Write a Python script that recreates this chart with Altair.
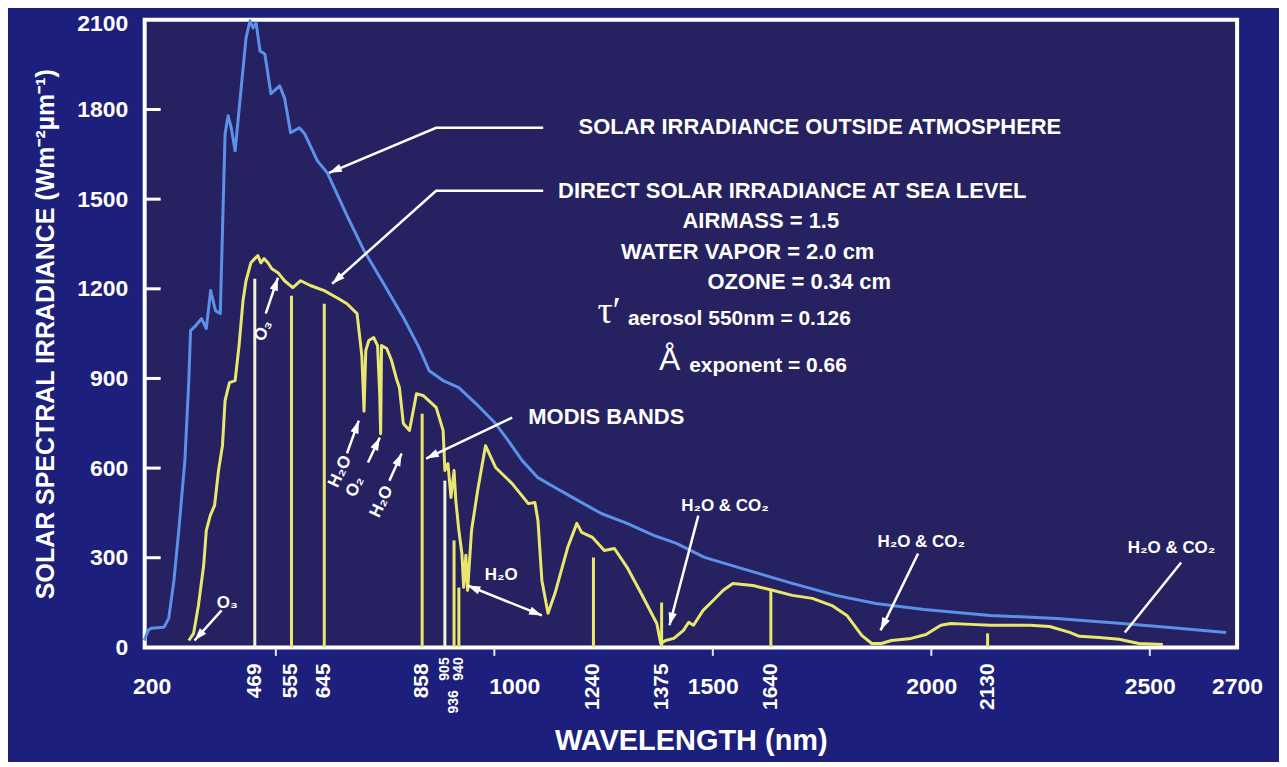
import math
import altair as alt
import pandas as pd

# ---------------- data ----------------
blue_nm = [199, 208, 215, 244, 255, 267, 278, 292, 301, 305, 317, 330, 341, 351, 362, 373, 384, 391, 398, 407,
           418, 432, 441, 448, 455, 464, 475, 489, 509, 520, 534, 554, 566, 595, 618, 663, 702, 747, 792, 828,
           851, 883, 919, 958, 1003, 1032, 1064, 1100, 1139, 1191, 1245, 1304, 1365, 1417, 1481, 1583, 1682,
           1782, 1873, 1984, 2135, 2287, 2437, 2539, 2675]
blue_w = [23, 57, 64, 67, 97, 224, 391, 625, 893, 1060, 1077, 1100, 1067, 1194, 1127, 1117, 1719, 1779, 1739, 1662,
          1829, 2040, 2097, 2073, 2090, 1996, 1986, 1853, 1879, 1839, 1722, 1739, 1719, 1629, 1588, 1445, 1328, 1217,
          1104, 1003, 926, 893, 869, 816, 749, 692, 625, 568, 535, 492, 448, 415, 375, 348, 301, 257, 214, 174, 147,
          127, 107, 97, 80, 67, 50]

yel_nm = [301, 312, 323, 335, 341, 350, 360, 369, 378, 384, 394, 407, 416, 425, 432, 437, 443, 452, 459, 466,
          473, 482, 491, 505, 520, 539, 557, 579, 611, 640, 663, 686, 697, 702, 706, 713, 724, 733, 738, 740,
          742, 754, 765, 776, 783, 792, 806, 822, 837, 867, 883, 887, 894, 901, 908, 912, 919, 926, 930, 935,
          939, 948, 962, 980, 1003, 1041, 1078, 1093, 1100, 1109, 1123, 1139, 1168, 1189, 1200, 1225, 1252, 1275,
          1304, 1336, 1372, 1381, 1392, 1411, 1433, 1445, 1456, 1478, 1501, 1524, 1546, 1592, 1637, 1682, 1728,
          1773, 1807, 1841, 1864, 1886, 1909, 1954, 1988, 2022, 2045, 2090, 2135, 2226, 2271, 2317, 2339, 2384,
          2430, 2475, 2530]
yel_w = [23, 47, 140, 274, 391, 441, 475, 592, 675, 826, 886, 893, 1010, 1160, 1227, 1254, 1287, 1301, 1311, 1287,
         1301, 1287, 1267, 1254, 1227, 1204, 1227, 1211, 1194, 1170, 1150, 1117, 976, 790, 993, 1027, 1037, 1010,
         843, 715, 1010, 1000, 960, 900, 869, 749, 726, 849, 843, 803, 726, 592, 615, 502, 592, 492, 391, 314, 201,
         308, 191, 391, 525, 675, 602, 548, 481, 485, 425, 224, 114, 181, 334, 415, 385, 368, 324, 331, 268, 181,
         80, 13, 23, 30, 57, 84, 74, 124, 157, 191, 214, 207, 191, 174, 164, 140, 107, 40, 13, 13, 23, 30, 43, 74,
         80, 77, 74, 74, 70, 50, 37, 33, 27, 13, 10]

band_label = ["469", "555", "645", "858", "905", "936", "940", "1240", "1375", "1640", "2130"]
band_nm = [452, 536, 611, 835, 887, 908, 919, 1227, 1383, 1633, 2129]   # where each line is drawn
band_top = [1234, 1177, 1150, 782, 558, 358, 200, 301, 150, 191, 47]
small_top_bands = ["905", "940"]
small_low_bands = ["936"]
pale_bands = ["469", "905"]

x_tick_values = [200, 500, 1000, 1500, 2000, 2500, 2700]
y_tick_values = [0, 300, 600, 900, 1200, 1500, 1800, 2100]
inner_y_ticks = [300, 600, 900, 1200, 1500, 1800]

arrow_paths = {
    "outside": [(1112, 1739), (867, 1739), (622, 1588)],
    "direct": [(1112, 1528), (867, 1528), (629, 1217)],
    "modis": [(1041, 769), (844, 632)],
    "o3_top": [(477, 1117), (505, 1237)],
    "o3_low": [(376, 124), (314, 23)],
    "h2o_a": [(663, 649), (690, 759)],
    "o2": [(711, 619), (738, 702)],
    "h2o_b": [(760, 558), (788, 649)],
    "h2o_c": [(939, 207), (1109, 107)],
    "co2_a": [(1467, 441), (1401, 74)],
    "co2_b": [(1970, 314), (1884, 57)],
    "co2_c": [(2572, 284), (2443, 50)],
}
arrow_heads = {
    "outside": "end", "direct": "end", "modis": "end", "o3_top": "end", "o3_low": "end",
    "h2o_a": "end", "o2": "end", "h2o_b": "end", "h2o_c": "both",
    "co2_a": "end", "co2_b": "end", "co2_c": "none",
}

big_left_txt = ["SOLAR IRRADIANCE OUTSIDE ATMOSPHERE", "DIRECT SOLAR IRRADIANCE AT SEA LEVEL", "MODIS BANDS"]
big_left_nm = [1193, 1146, 1078]
big_left_w = [1742, 1528, 772]

center_txt = ["AIRMASS = 1.5", "WATER VAPOR = 2.0 cm", "OZONE = 0.34 cm"]
center_nm = [1610, 1580, 1698]
center_w = [1428, 1324, 1224]

param_txt = ["aerosol 550nm = 0.126", "exponent = 0.66"]
param_nm = [1306, 1446]
param_w = [1100, 940]

tau_txt = ["τ′"]
tau_nm = [1236]
tau_w = [1122]

ring_txt = ["Å"]
ring_nm = [1377]
ring_w = [962]

gas_txt = ["H₂O & CO₂", "H₂O & CO₂", "H₂O & CO₂", "H₂O", "O₃"]
gas_nm = [1528, 1977, 2550, 1016, 389]
gas_w = [472, 354, 334, 241, 150]

tilt_txt = ["O₃", "H₂O", "O₂", "H₂O"]
tilt_nm = [471, 647, 681, 742]
tilt_w = [1060, 589, 538, 488]

# ---------------- styling ----------------
W, H = 1095, 629
FONT = "Liberation Sans"
BLUE = "#5b91e8"
YELLOW = "#e9e76e"
PALE = "#f3f3d6"
WHITE = "#ffffff"

XS = alt.Scale(domain=[200, 2700], nice=False, zero=False)
YS = alt.Scale(domain=[0, 2100], nice=False, zero=True)

XAX = alt.Axis(
    values=x_tick_values, format="d",
    labelExpr="datum.value == 500 ? '' : datum.label",
    labelFlush=False, labelFont=FONT, labelFontSize=23, labelFontWeight="bold", labelColor=WHITE,
    labelPadding=20,
    labelOffset={"condition": [{"test": "datum.value == 1000", "value": 20},
                               {"test": "datum.value == 200", "value": 7}], "value": 0},
    domain=False, ticks=True, tickSize=8, tickWidth=2, tickColor="#dfe6ff",
    tickOpacity={"condition": {"test": "datum.value == 200 || datum.value == 2700", "value": 0}, "value": 1},
    grid=False,
    title="WAVELENGTH (nm)", titleFont=FONT, titleFontSize=29, titleFontWeight="bold", titleColor=WHITE,
    titlePadding=28,
)
YAX = alt.Axis(
    values=y_tick_values, format="d",
    labelFont=FONT, labelFontSize=23, labelFontWeight="bold", labelColor=WHITE, labelPadding=17,
    labelOffset={"condition": {"test": "datum.value == 2100", "value": 4}, "value": 0},
    domain=False, ticks=False, grid=False,
    title="SOLAR SPECTRAL IRRADIANCE (Wm⁻²µm⁻¹)", titleFont=FONT, titleFontSize=25,
    titleFontWeight="bold", titleColor=WHITE, titlePadding=18,
)


def X():
    return alt.X("nm:Q", scale=XS, axis=XAX)


def Y():
    return alt.Y("w:Q", scale=YS, axis=YAX)


blue_df = pd.DataFrame({"nm": blue_nm, "w": blue_w})
yel_df = pd.DataFrame({"nm": yel_nm, "w": yel_w})
band_df = pd.DataFrame({"nm": band_nm, "w": band_top, "lab": band_label})

rows = []
for aid, pts in arrow_paths.items():
    for i, (n, v) in enumerate(pts):
        rows.append({"aid": aid, "seq": i, "nm": n, "w": v})
arrow_df = pd.DataFrame(rows)

PX_NM = W / 2500.0
PX_W = H / 2100.0


def head(p_from, p_to):
    dx = (p_to[0] - p_from[0]) * PX_NM
    dy = -(p_to[1] - p_from[1]) * PX_W
    ang = math.degrees(math.atan2(dx, -dy)) % 360
    return {"nm": p_to[0], "w": p_to[1], "ang": ang}


heads = []
for aid, pts in arrow_paths.items():
    mode = arrow_heads[aid]
    if mode in ("end", "both"):
        heads.append(head(pts[-2], pts[-1]))
    if mode == "both":
        heads.append(head(pts[1], pts[0]))
head_df = pd.DataFrame(heads)

# ---------------- layers ----------------
ytick_layer = alt.Chart(pd.DataFrame({"w": inner_y_ticks})).mark_rule(
    color=WHITE, strokeWidth=3).encode(y=Y(), x=alt.value(0), x2=alt.value(16))

blue_layer = alt.Chart(blue_df).mark_line(color=BLUE, strokeWidth=3, strokeJoin="round").encode(
    x=X(), y=Y(), order="nm:Q")

band_layer = alt.Chart(band_df).mark_rule(strokeWidth=3).encode(
    x=X(), y=Y(), y2=alt.datum(0),
    color=alt.condition(alt.FieldOneOfPredicate(field="lab", oneOf=pale_bands), alt.value(PALE), alt.value(YELLOW)))

yel_layer = alt.Chart(yel_df).mark_line(color=YELLOW, strokeWidth=3, strokeJoin="round").encode(
    x=X(), y=Y(), order="nm:Q")

arrow_layer = alt.Chart(arrow_df).mark_line(color=WHITE, strokeWidth=2.5).encode(
    x=X(), y=Y(), detail="aid:N", order="seq:Q")

head_layer = alt.Chart(head_df).mark_point(
    shape="M0,0L0.33,1L-0.33,1Z", filled=True, color=WHITE, opacity=1, size=650).encode(
    x=X(), y=Y(), angle=alt.Angle("ang:Q", scale=None))

big_band = band_df[~band_df["lab"].isin(small_top_bands + small_low_bands)]
band_text_big = alt.Chart(big_band).mark_text(
    angle=270, align="right", baseline="middle", font=FONT, fontSize=21, fontWeight="bold", color=WHITE).encode(
    x=X(), y=alt.value(H + 16), text="lab:N")
band_text_small_a = alt.Chart(band_df[band_df["lab"].isin(small_top_bands)]).mark_text(
    angle=270, align="right", baseline="middle", font=FONT, fontSize=14, fontWeight="bold", color=WHITE).encode(
    x=X(), y=alt.value(H + 10), text="lab:N")
band_text_small_b = alt.Chart(band_df[band_df["lab"].isin(small_low_bands)]).mark_text(
    angle=270, align="right", baseline="middle", font=FONT, fontSize=14, fontWeight="bold", color=WHITE).encode(
    x=X(), y=alt.value(H + 43), text="lab:N")

big_left = alt.Chart(pd.DataFrame({"nm": big_left_nm, "w": big_left_w, "t": big_left_txt})).mark_text(
    align="left", baseline="middle", font=FONT, fontSize=22, fontWeight="bold", color=WHITE).encode(
    x=X(), y=Y(), text="t:N")
center_lab = alt.Chart(pd.DataFrame({"nm": center_nm, "w": center_w, "t": center_txt})).mark_text(
    align="center", baseline="middle", font=FONT, fontSize=22, fontWeight="bold", color=WHITE).encode(
    x=X(), y=Y(), text="t:N")
param_lab = alt.Chart(pd.DataFrame({"nm": param_nm, "w": param_w, "t": param_txt})).mark_text(
    align="left", baseline="middle", font=FONT, fontSize=21, fontWeight="bold", color=WHITE).encode(
    x=X(), y=Y(), text="t:N")
tau_lab = alt.Chart(pd.DataFrame({"nm": tau_nm, "w": tau_w, "t": tau_txt})).mark_text(
    align="left", baseline="middle", font="Liberation Serif", fontSize=38, color=WHITE).encode(
    x=X(), y=Y(), text="t:N")
ring_lab = alt.Chart(pd.DataFrame({"nm": ring_nm, "w": ring_w, "t": ring_txt})).mark_text(
    align="left", baseline="middle", font=FONT, fontSize=32, color=WHITE).encode(
    x=X(), y=Y(), text="t:N")
gas_lab = alt.Chart(pd.DataFrame({"nm": gas_nm, "w": gas_w, "t": gas_txt})).mark_text(
    align="center", baseline="middle", font=FONT, fontSize=17, fontWeight="bold", color=WHITE).encode(
    x=X(), y=Y(), text="t:N")
tilt_lab = alt.Chart(pd.DataFrame({"nm": tilt_nm, "w": tilt_w, "t": tilt_txt})).mark_text(
    angle=295, align="center", baseline="middle", font=FONT, fontSize=17, fontWeight="bold", color=WHITE).encode(
    x=X(), y=Y(), text="t:N")

chart = alt.layer(
    blue_layer, band_layer, yel_layer, ytick_layer, arrow_layer, head_layer,
    band_text_big, band_text_small_a, band_text_small_b,
    big_left, center_lab, param_lab, tau_lab, ring_lab, gas_lab, tilt_lab,
).properties(
    width=W, height=H,
    autosize=alt.AutoSizeParams(type="none"),
    padding={"left": 137, "top": 11, "right": 42, "bottom": 114},
    background="#1d1f7c",
).configure_view(
    fill="#262262", stroke=WHITE, strokeWidth=4,
)

chart.save("out.html", embed_options={"renderer": "svg", "actions": False})
